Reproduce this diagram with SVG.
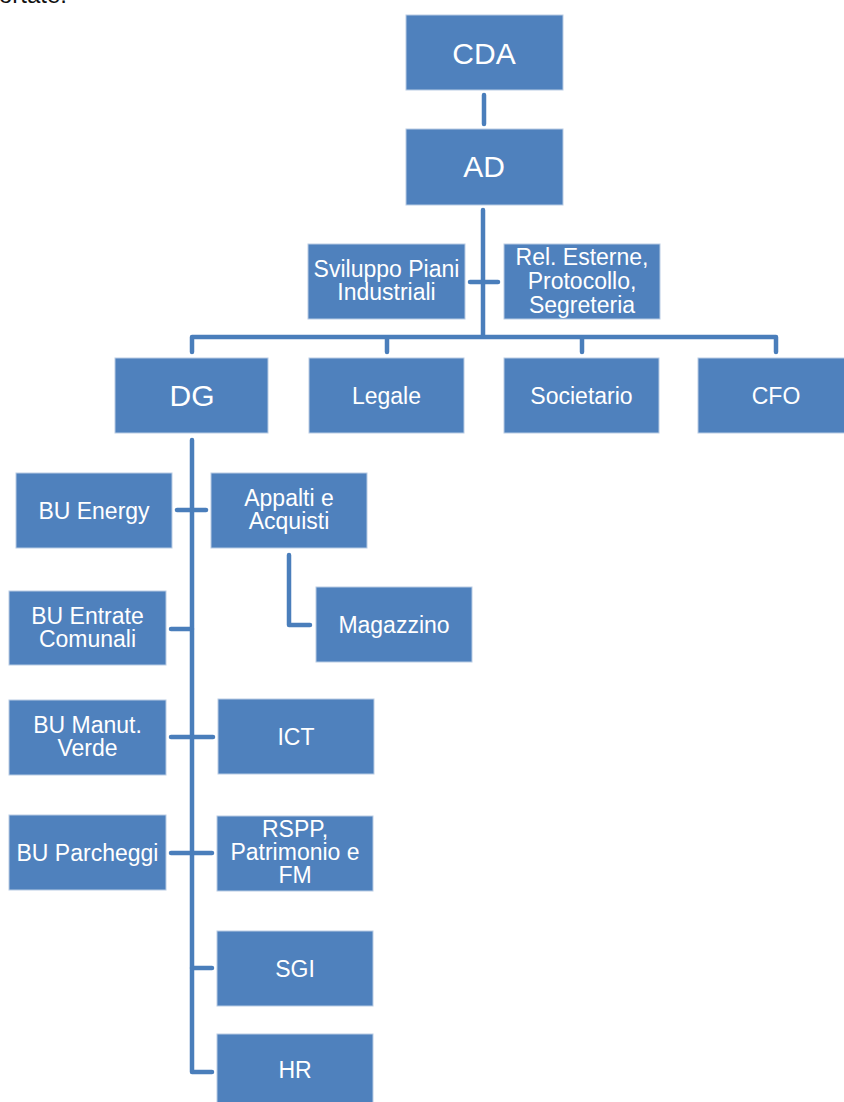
<svg xmlns="http://www.w3.org/2000/svg" width="844" height="1102" viewBox="0 0 844 1102">
<style>
.box{fill:#4f81bd;stroke:#b9cce4;stroke-width:1}
.t{font-family:"Liberation Sans",Arial,sans-serif;font-size:23px;fill:#ffffff;text-anchor:middle}
.big{font-size:30px}
.c{fill:none;stroke:#4a7ebb;stroke-width:4.5;stroke-linecap:round;stroke-linejoin:round}
</style>
<rect width="844" height="1102" fill="#ffffff"/>
<text x="-1" y="3" style="font-family:'Liberation Sans',Arial,sans-serif;font-size:24px;fill:#111">ortate.</text>
<g id="connectors">
<path class="c" d="M484 95V124"/>
<path class="c" d="M483 210V337M192 352V337H776V352M387 337V352M582 337V352"/>
<path class="c" d="M470 282H498"/>
<path class="c" d="M192 440V1072H212"/>
<path class="c" d="M177 510H206"/>
<path class="c" d="M289 555V625H310"/>
<path class="c" d="M171 629H192"/>
<path class="c" d="M171 737H213"/>
<path class="c" d="M171 853H212"/>
<path class="c" d="M192 968H212"/>
</g>
<g id="cda"><rect class="box" x="406" y="15" width="157" height="75"/><text class="t big" x="484" y="64">CDA</text></g>
<g id="ad"><rect class="box" x="406" y="129" width="157" height="76"/><text class="t big" x="484" y="177">AD</text></g>
<g id="sviluppo"><rect class="box" x="308" y="244" width="157" height="75"/><text class="t" x="386.5" y="277">Sviluppo Piani</text><text class="t" x="386.5" y="300">Industriali</text></g>
<g id="relesterne"><rect class="box" x="504" y="244" width="156" height="75"/><text class="t" x="582" y="265">Rel. Esterne,</text><text class="t" x="582" y="289">Protocollo,</text><text class="t" x="582" y="313">Segreteria</text></g>
<g id="dg"><rect class="box" x="115" y="358" width="153" height="75"/><text class="t big" x="192" y="406">DG</text></g>
<g id="legale"><rect class="box" x="309" y="358" width="155" height="75"/><text class="t" x="386.5" y="404">Legale</text></g>
<g id="societario"><rect class="box" x="504" y="358" width="155" height="75"/><text class="t" x="581.5" y="404">Societario</text></g>
<g id="cfo"><rect class="box" x="698" y="358" width="156" height="75"/><text class="t" x="776" y="404">CFO</text></g>
<g id="buenergy"><rect class="box" x="16" y="473" width="156" height="75"/><text class="t" x="94" y="519">BU Energy</text></g>
<g id="appalti"><rect class="box" x="211" y="473" width="156" height="75"/><text class="t" x="289" y="506">Appalti e</text><text class="t" x="289" y="529">Acquisti</text></g>
<g id="magazzino"><rect class="box" x="316" y="587" width="156" height="75"/><text class="t" x="394" y="633">Magazzino</text></g>
<g id="buentrate"><rect class="box" x="9" y="591" width="157" height="74"/><text class="t" x="87.5" y="624">BU Entrate</text><text class="t" x="87.5" y="647">Comunali</text></g>
<g id="bumanut"><rect class="box" x="9" y="700" width="157" height="75"/><text class="t" x="87.5" y="733">BU Manut.</text><text class="t" x="87.5" y="756">Verde</text></g>
<g id="ict"><rect class="box" x="218" y="699" width="156" height="75"/><text class="t" x="296" y="745">ICT</text></g>
<g id="buparcheggi"><rect class="box" x="9" y="815" width="157" height="75"/><text class="t" x="87.5" y="861">BU Parcheggi</text></g>
<g id="rspp"><rect class="box" x="217" y="816" width="156" height="75"/><text class="t" x="295" y="837">RSPP,</text><text class="t" x="295" y="860">Patrimonio e</text><text class="t" x="295" y="883">FM</text></g>
<g id="sgi"><rect class="box" x="217" y="931" width="156" height="75"/><text class="t" x="295" y="977">SGI</text></g>
<g id="hr"><rect class="box" x="217" y="1034" width="156" height="75"/><text class="t" x="295" y="1078">HR</text></g>
</svg>
